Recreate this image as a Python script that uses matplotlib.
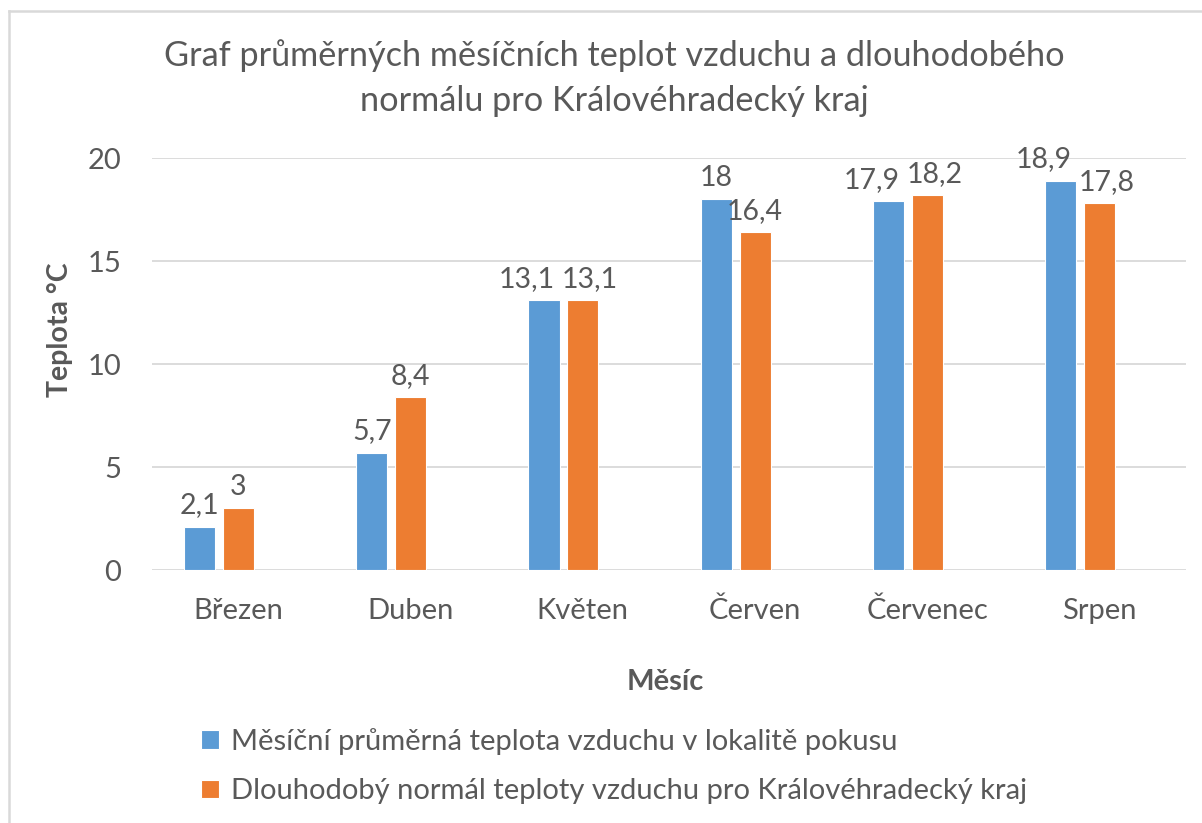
import matplotlib.pyplot as plt
import numpy as np
from matplotlib.lines import Line2D

# Data
months = ['Březen', 'Duben', 'Květen', 'Červen', 'Červenec', 'Srpen']
measured = [2.1, 5.7, 13.1, 18.0, 17.9, 18.9]
normal = [3.0, 8.4, 13.1, 16.4, 18.2, 17.8]
series_names = ['Měsíční průměrná teplota vzduchu v lokalitě pokusu',
                'Dlouhodobý normál teploty vzduchu pro Královéhradecký kraj']

blue = '#5B9BD5'
orange = '#ED7D31'
grey = '#595959'

plt.rcParams['font.family'] = ['Lato', 'DejaVu Sans']

fig = plt.figure(figsize=(12.02, 8.23), dpi=100)
ax = fig.add_axes([0.1265, 0.3074, 0.860, 0.5006])

x = np.arange(len(months))
bar_width = 0.18
offset = 0.225

bars1 = ax.bar(x - offset, measured, bar_width, color=blue, edgecolor='white', linewidth=0.8,
               label=series_names[0], zorder=3)
bars2 = ax.bar(x, normal, bar_width, color=orange, edgecolor='white', linewidth=0.8,
               label=series_names[1], zorder=3)

def fmt(v):
    return f'{v:g}'.replace('.', ',')

ax.set_xlim(-0.5, len(months) - 0.5)
ax.set_ylim(0, 20)
ax.set_yticks([0, 5, 10, 15, 20])
ax.set_xticks(x)
ax.set_xticklabels(months)
ax.tick_params(axis='both', length=0, labelsize=21, labelcolor=grey)
ax.tick_params(axis='y', pad=22)
ax.tick_params(axis='x', pad=20)
ax.grid(axis='y', color='#D9D9D9', linewidth=1.3, zorder=0)
for s in ax.spines.values():
    s.set_visible(False)

# value labels, pushed apart where neighbours collide (as Excel does)
labels1, labels2 = [], []
for bars, vals, store in [(bars1, measured, labels1), (bars2, normal, labels2)]:
    for b, v in zip(bars, vals):
        t = ax.annotate(fmt(v), xy=(b.get_x() + b.get_width() / 2, v), xytext=(0, 6),
                        textcoords='offset points', ha='center', va='bottom',
                        fontsize=20.5, color=grey)
        store.append(t)

fig.canvas.draw()
renderer = fig.canvas.get_renderer()
gap = 7  # px
for t1, t2 in zip(labels1, labels2):
    e1 = t1.get_window_extent(renderer)
    e2 = t2.get_window_extent(renderer)
    vert = min(e1.y1, e2.y1) - max(e1.y0, e2.y0)
    need = e1.x1 + gap - e2.x0
    if vert > 0 and need > 0:
        pt = 72 / fig.dpi
        t1.xyann = (-0.7 * need * pt, t1.xyann[1])
        t2.xyann = (0.3 * need * pt, t2.xyann[1])

ax.set_ylabel('Teplota °C', fontsize=20.5, fontweight='bold', color=grey)
ax.yaxis.set_label_coords(-0.0764, 0.583)
ax.set_xlabel('Měsíc', fontsize=21, fontweight='bold', color=grey)
ax.xaxis.set_label_coords(0.497, -0.24)

fig.suptitle('Graf průměrných měsíčních teplot vzduchu a dlouhodobého\nnormálu pro Královéhradecký kraj',
             x=0.511, y=0.952, fontsize=24.7, color=grey, linespacing=1.5)

fig.legend(handles=[bars1, bars2], loc='upper left', bbox_to_anchor=(0.1675, 0.1155),
           bbox_transform=fig.transFigure, frameon=False, fontsize=21, labelcolor=grey,
           borderpad=0, borderaxespad=0,
           handlelength=0.62, handleheight=0.62, handletextpad=0.4, labelspacing=0.8)

# chart border (left and top edges visible)
fig.add_artist(Line2D([0.0075, 0.0075], [0, 0.9866], color='#D9D9D9', linewidth=1.8,
                      transform=fig.transFigure))
fig.add_artist(Line2D([0.0075, 1.0], [0.9866, 0.9866], color='#D9D9D9', linewidth=1.8,
                      transform=fig.transFigure))

fig.savefig('out.png', dpi=100, facecolor='white')
